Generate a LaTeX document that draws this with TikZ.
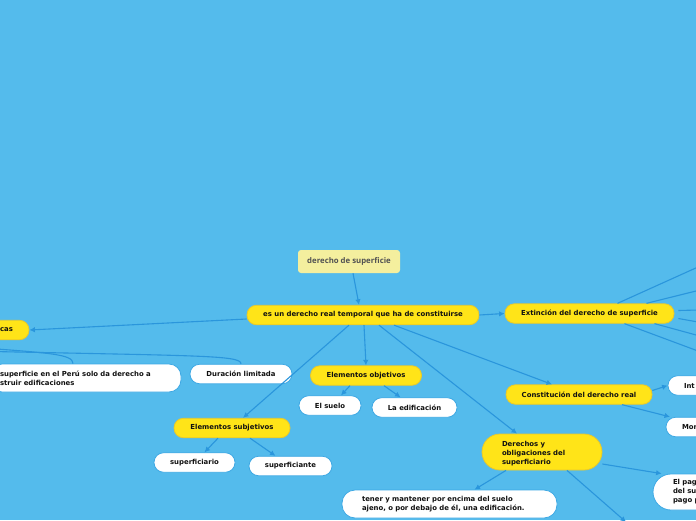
\documentclass[tikz,border=0pt]{standalone}
\usepackage{fontspec}
\setmainfont{DejaVu Sans}
\newfontfamily\topfont{Open Sans}
\usetikzlibrary{arrows.meta,calc}
\definecolor{bgblue}{HTML}{54BBEC}
\definecolor{linec}{HTML}{2A96DC}
\definecolor{yel}{HTML}{FFE418}
\definecolor{yelb}{HTML}{E9C92A}
\definecolor{wborder}{HTML}{3DA8E4}
\definecolor{topfill}{HTML}{F4EF9E}
\definecolor{txt}{HTML}{111111}
\begin{document}
\begin{tikzpicture}[x=1pt,y=-1pt,
  base/.style={font=\fontsize{6.9}{9}\selectfont\bfseries, text=txt, inner ysep=0pt, line width=0.8pt},
  ynode/.style={base, fill=yel, draw=yelb, rounded corners=9.5pt, minimum height=19.5pt},
  wnode/.style={base, fill=white, draw=wborder, rounded corners=9.5pt, minimum height=19.5pt},
  conn/.style={draw=linec, line width=1.1pt},
  arr/.style={conn, -{Latex[length=5.5pt,width=5.5pt]}}
]
\fill[bgblue] (0,0) rectangle (696,520);
\useasboundingbox (0,0) rectangle (696,520);

% nodes
\node[fill=topfill, rounded corners=3pt, minimum width=102pt, minimum height=23pt,
      font=\topfont\fontsize{7.8}{9}\selectfont\bfseries, text=black!68] (top) at (349,261.5) {derecho de superficie};
\node[ynode, minimum width=232pt] (main) at (363,315) {es un derecho real temporal que ha de constituirse};
\node[ynode, text width=60pt, align=right, inner xsep=16pt] (cas) at (-17,330) {cas};
\node[wnode, text width=171pt, align=left, inner xsep=10pt, minimum height=28pt, rounded corners=12pt] (peru) at (85.5,378)
  {superficie en el Perú solo da derecho a\\struir edificaciones};
\node[wnode, minimum width=102pt] (dur) at (241,374) {Duración limitada};
\node[ynode, minimum width=111pt] (eobj) at (366,375.5) {Elementos objetivos};
\node[wnode, minimum width=62pt] (suelo) at (330,405.5) {El suelo};
\node[wnode, minimum width=85pt] (edif) at (414.5,407.5) {La edificación};
\node[ynode, minimum width=116pt] (esub) at (232,428) {Elementos subjetivos};
\node[wnode, minimum width=81pt] (supario) at (194.5,462.5) {superficiario};
\node[wnode, minimum width=83pt] (supante) at (290.5,466) {superficiante};
\node[ynode, minimum width=169pt] (ext) at (589.5,313.5) {Extinción del derecho de superficie};
\node[ynode, minimum width=146pt] (const) at (579,394.5) {Constitución del derecho real};
\node[wnode, text width=40pt, align=left, inner xsep=16pt] (int) at (704,385.5) {Int};
\node[wnode, text width=40pt, align=left, inner xsep=16pt] (mor) at (702,427) {Mor};
\node[ynode, text width=80pt, align=left, inner xsep=20pt, minimum height=36pt, rounded corners=18pt] (der) at (542,452)
  {\rule{0pt}{8.5pt}Derechos y\\obligaciones del\\superficiario};
\node[wnode, text width=175pt, align=left, inner xsep=20pt, minimum height=28pt, rounded corners=13pt] (tener) at (449.5,504)
  {tener y mantener por encima del suelo\\ajeno, o por debajo de él, una edificación.};
\node[wnode, text width=40pt, align=left, inner xsep=20pt, minimum height=36pt, rounded corners=18pt] (pag) at (693,492)
  {El pag\\del su\\pago p};

% free ends
\coordinate (carac) at (-30,347);
\coordinate (bot) at (626,522);
\coordinate (x1) at (698,267);
\coordinate (x2) at (698,290.5);
\coordinate (x3) at (698,310);
\coordinate (x4) at (698,322);
\coordinate (x5) at (698,335.5);
\coordinate (x6) at (698,351);

% connectors
\draw[arr] ([xshift=4pt]top.south) -- ([xshift=-4pt]main.north);
\draw[arr] ([yshift=-4pt]main.west) -- (cas.east);
\draw[arr] (main.east) -- (ext.west);
\draw[arr] ([xshift=1pt]main.south) -- (eobj.north);
\draw[arr] ([xshift=-14pt]main.south) -- ([xshift=11pt]esub.north);
\draw[arr] ([xshift=16pt]main.south) -- ([xshift=-25pt]der.north);
\draw[arr] ([xshift=31pt]main.south) -- ([xshift=-27pt]const.north);
\draw[arr] ([xshift=-16pt]eobj.south) -- ([xshift=11pt]suelo.north);
\draw[arr] ([xshift=18pt]eobj.south) -- ([xshift=-14pt]edif.north);
\draw[arr] ([xshift=-14pt]esub.south) -- ([xshift=10pt]supario.north);
\draw[arr] ([xshift=18pt]esub.south) -- ([xshift=-15pt]supante.north);
\draw[arr] ([yshift=4pt]const.east) -- ([yshift=0pt]int.west);
\draw[arr] ([xshift=43pt]const.south) -- ([xshift=-32pt]mor.north);
\draw[arr] ([xshift=-36pt]der.south) -- ([xshift=25pt]tener.north);
\draw[arr] ([yshift=-12pt]der.east) -- ([xshift=9pt]pag.north west);
\draw[arr] ([xshift=25pt]der.south) -- (bot);
\draw[conn] ([xshift=28pt]ext.north) -- (x1);
\draw[conn] ([xshift=57pt]ext.north) -- (x2);
\draw[conn] ([yshift=3pt,xshift=4pt]ext.east) -- (x3);
\draw[conn] ([yshift=-5pt,xshift=4pt]ext.east) -- (x4);
\draw[conn] ([xshift=65pt]ext.south) -- (x5);
\draw[conn] ([xshift=35pt]ext.south) -- (x6);
\draw[conn] (carac) .. controls (50,353) and (73,354) .. ([xshift=-12.5pt]peru.north);
\draw[conn] ([yshift=-4pt]carac) .. controls (200,356) and (241,355) .. (dur.north);
\end{tikzpicture}
\end{document}
